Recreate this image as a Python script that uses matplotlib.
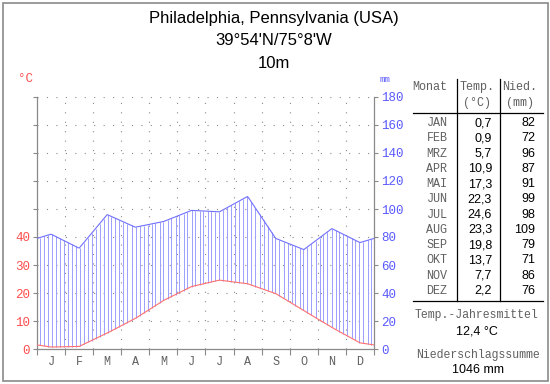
import matplotlib
matplotlib.use("Agg")
import matplotlib.pyplot as plt
import numpy as np

# climate data Philadelphia
months = ["JAN", "FEB", "MRZ", "APR", "MAI", "JUN", "JUL", "AUG", "SEP", "OKT", "NOV", "DEZ"]
month_letters = ["J", "F", "M", "A", "M", "J", "J", "A", "S", "O", "N", "D"]
temp = [0.7, 0.9, 5.7, 10.9, 17.3, 22.3, 24.6, 23.3, 19.8, 13.7, 7.7, 2.2]
prec = [82, 72, 96, 87, 91, 99, 98, 109, 79, 71, 86, 76]

title_lines = ["Philadelphia, Pennsylvania (USA)", "39°54'N/75°8'W", "10m"]

RED = "#ff4d4d"
LINE_RED = "#ff6f6f"
BLUE = "#5a5aff"
LINE_BLUE = "#7070ff"
HATCH = "#a0a0ff"
GRAY = "#8a8a8a"
TXT = "#606060"
MONO = "Liberation Mono"
SANS = "Liberation Sans"

W, H = 550, 384
fig = plt.figure(figsize=(W / 100, H / 100), dpi=100)


def fx(px):
    return px / W


def fy(py):
    return 1 - py / H


# outer frame
fig.add_artist(plt.Rectangle((fx(2.5), fy(381)), fx(545), (381 - 2.5) / H,
                             fill=False, edgecolor=GRAY, lw=1.2, transform=fig.transFigure))

# title
for i, line in enumerate(title_lines):
    fig.text(fx(274), fy(18 + i * 22.5), line, ha="center", va="center",
             fontsize=12, family=SANS, color="black")

# main diagram
AX_L, AX_R = 37, 374
ax = fig.add_axes([fx(AX_L), fy(349), fx(AX_R - AX_L), (349 - 97) / H])
ax.set_xlim(0, 12)
ax.set_ylim(0, 90)

# curves at month centres, wrapped to the edges
xc = np.arange(12) + 0.5
xw = np.concatenate(([xc[-1] - 12], xc, [xc[0] + 12]))
tw = np.concatenate(([temp[-1]], temp, [temp[0]]))
pw = np.concatenate(([prec[-1]], prec, [prec[0]])) / 2.0
xs = np.linspace(0, 12, 400)
t_line = np.interp(xs, xw, tw)
p_line = np.interp(xs, xw, pw)

# humid hatching: one line every 4 px, snapped to pixel centres
px_per_unit = (AX_R - AX_L) / 12
xh = (np.arange(84) * 4 + 2.5) / px_per_unit
th = np.interp(xh, xw, tw)
ph = np.interp(xh, xw, pw)
ax.vlines(xh, th, ph, color=HATCH, lw=0.72, zorder=2)

ax.plot(xs, p_line, color=LINE_BLUE, lw=0.8, zorder=3)
ax.plot(xs, t_line, color=LINE_RED, lw=0.8, zorder=3)

# dotted grid
for k in range(1, 10):
    ax.axhline(k * 10, color=GRAY, lw=0.8, ls=(0, (1, 7.5)), zorder=1)
for m in range(1, 12):
    ax.axvline(m, color=GRAY, lw=0.8, ls=(0, (1, 7.5)), zorder=1)

for s in ["top", "right"]:
    ax.spines[s].set_visible(False)
for s in ["left", "bottom"]:
    ax.spines[s].set_color(GRAY)
    ax.spines[s].set_linewidth(0.9)

ax.set_yticks(np.arange(0, 91, 10))
ax.set_yticklabels([str(v) if v <= 40 else "" for v in range(0, 91, 10)])
ax.tick_params(axis="y", colors=GRAY, labelcolor=RED, length=3, pad=2, width=0.8)
for lab in ax.get_yticklabels():
    lab.set_family(MONO)
    lab.set_fontsize(9)

ax.set_xticks(np.arange(0, 13))
ax.set_xticklabels([])
ax.set_xticks(xc, minor=True)
ax.set_xticklabels(month_letters, minor=True, family=MONO, fontsize=8.5, color=TXT)
ax.tick_params(axis="x", which="major", colors=GRAY, length=4, width=0.8)
ax.tick_params(axis="x", which="minor", length=0, pad=5)

# precipitation axis
ax2 = ax.twinx()
ax2.set_ylim(0, 180)
ax2.set_yticks(np.arange(0, 181, 20))
ax2.tick_params(axis="y", colors=GRAY, labelcolor=BLUE, length=3, pad=2, width=0.8)
for lab in ax2.get_yticklabels():
    lab.set_family(MONO)
    lab.set_fontsize(9)
for s in ["top", "left", "bottom"]:
    ax2.spines[s].set_visible(False)
ax2.spines["right"].set_color(GRAY)
ax2.spines["right"].set_linewidth(0.9)

fig.text(fx(26), fy(79), "°C", ha="center", va="center", family=MONO, fontsize=9, color=RED)
fig.text(fx(385), fy(80), "mm", ha="center", va="center", family=MONO, fontsize=6.5, color=BLUE)

# table
def hline(py, x0=413, x1=543):
    fig.add_artist(plt.Line2D([fx(x0), fx(x1)], [fy(py), fy(py)], color="black", lw=0.9))


def vline(px, y0=79, y1=300.7):
    fig.add_artist(plt.Line2D([fx(px), fx(px)], [fy(y0), fy(y1)], color="black", lw=0.9))


vline(456.7)
vline(500)
hline(112.7)
hline(300.7)

fig.text(fx(430), fy(87), "Monat", ha="center", va="center", family=MONO, fontsize=8.5, color=TXT)
fig.text(fx(477), fy(87), "Temp.", ha="center", va="center", family=MONO, fontsize=8.5, color=TXT)
fig.text(fx(477), fy(103), "(°C)", ha="center", va="center", family=MONO, fontsize=8.5, color=TXT)
fig.text(fx(520), fy(87), "Nied.", ha="center", va="center", family=MONO, fontsize=8.5, color=TXT)
fig.text(fx(520), fy(103), "(mm)", ha="center", va="center", family=MONO, fontsize=8.5, color=TXT)

for i, (mo, t, p) in enumerate(zip(months, temp, prec)):
    y = 123 + i * 15.27
    fig.text(fx(437), fy(y), mo, ha="center", va="center", family=MONO, fontsize=8.5, color=TXT)
    fig.text(fx(492), fy(y), f"{t:.1f}".replace(".", ","), ha="right", va="center",
             family=SANS, fontsize=9, color="black")
    fig.text(fx(535), fy(y), str(p), ha="right", va="center",
             family=SANS, fontsize=9, color="black")

mean_t = np.mean(temp)
sum_p = int(np.sum(prec))
fig.text(fx(476), fy(315), "Temp.-Jahresmittel", ha="center", va="center", family=MONO, fontsize=8.3, color=TXT)
fig.text(fx(477), fy(331), f"{mean_t:.1f} °C".replace(".", ","), ha="center", va="center",
         family=SANS, fontsize=9, color="black")
fig.text(fx(478), fy(355), "Niederschlagssumme", ha="center", va="center", family=MONO, fontsize=8.3, color=TXT)
fig.text(fx(478), fy(370), f"{sum_p} mm", ha="center", va="center", family=SANS, fontsize=9, color="black")

fig.savefig("out.png", dpi=100)
